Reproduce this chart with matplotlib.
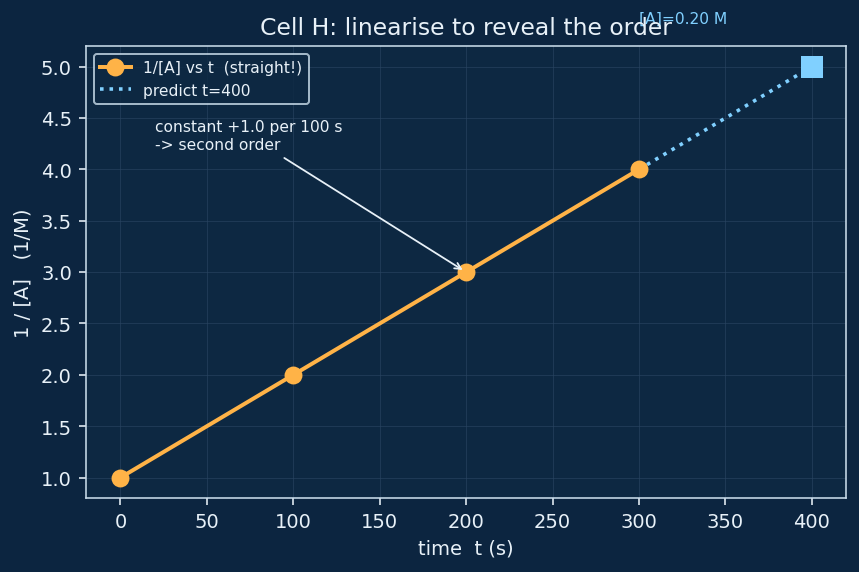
import matplotlib
matplotlib.use("Agg")
import matplotlib.pyplot as plt

# data
t_obs = [0, 100, 200, 300]
inv_a = [1.0, 2.0, 3.0, 4.0]
t_pred = [300, 400]
inv_pred = [4.0, 5.0]

BG = "#0c2540"
AX_BG = "#0d2842"
FG = "#e8f1f8"
ORANGE = "#ffb347"
BLUE = "#80d0ff"

fig, ax = plt.subplots(figsize=(6.0, 4.0), dpi=143.2)
fig.patch.set_facecolor(BG)
ax.set_facecolor(AX_BG)

ax.plot(t_obs, inv_a, "-o", color=ORANGE, lw=2, ms=8, label="1/[A] vs t  (straight!)", zorder=3)
ax.plot(t_pred, inv_pred, ":", color=BLUE, lw=1.8, label="predict t=400", zorder=2)
ax.plot([t_pred[-1]], [inv_pred[-1]], "s", color=BLUE, ms=10, zorder=4)
ax.text(t_obs[-1], 5.4, "[A]=0.20 M", color=BLUE, fontsize=7.8, va="bottom", ha="left",
        clip_on=False, zorder=0)

ax.annotate("constant +1.0 per 100 s\n-> second order", xy=(t_obs[2], inv_a[2]), xytext=(20, 4.2),
            color=FG, fontsize=7.8, arrowprops=dict(arrowstyle="->", color=FG, lw=0.9))

ax.set_title("Cell H: linearise to reveal the order", color=FG, fontsize=11.8)
ax.set_xlabel("time  t (s)", color=FG, fontsize=9.8)
ax.set_ylabel("1 / [A]   (1/M)", color=FG, fontsize=9.8)
ax.tick_params(colors=FG, labelsize=9.8)
for s in ax.spines.values():
    s.set_color("#c9dcea")
ax.grid(True, color="#2a4662", lw=0.5, alpha=0.6)

leg = ax.legend(loc="upper left", fontsize=7.8, facecolor=AX_BG, edgecolor="#c9dcea", labelcolor=FG)

fig.subplots_adjust(left=0.100, right=0.985, top=0.918, bottom=0.129)
fig.savefig("out.png", facecolor=BG)
